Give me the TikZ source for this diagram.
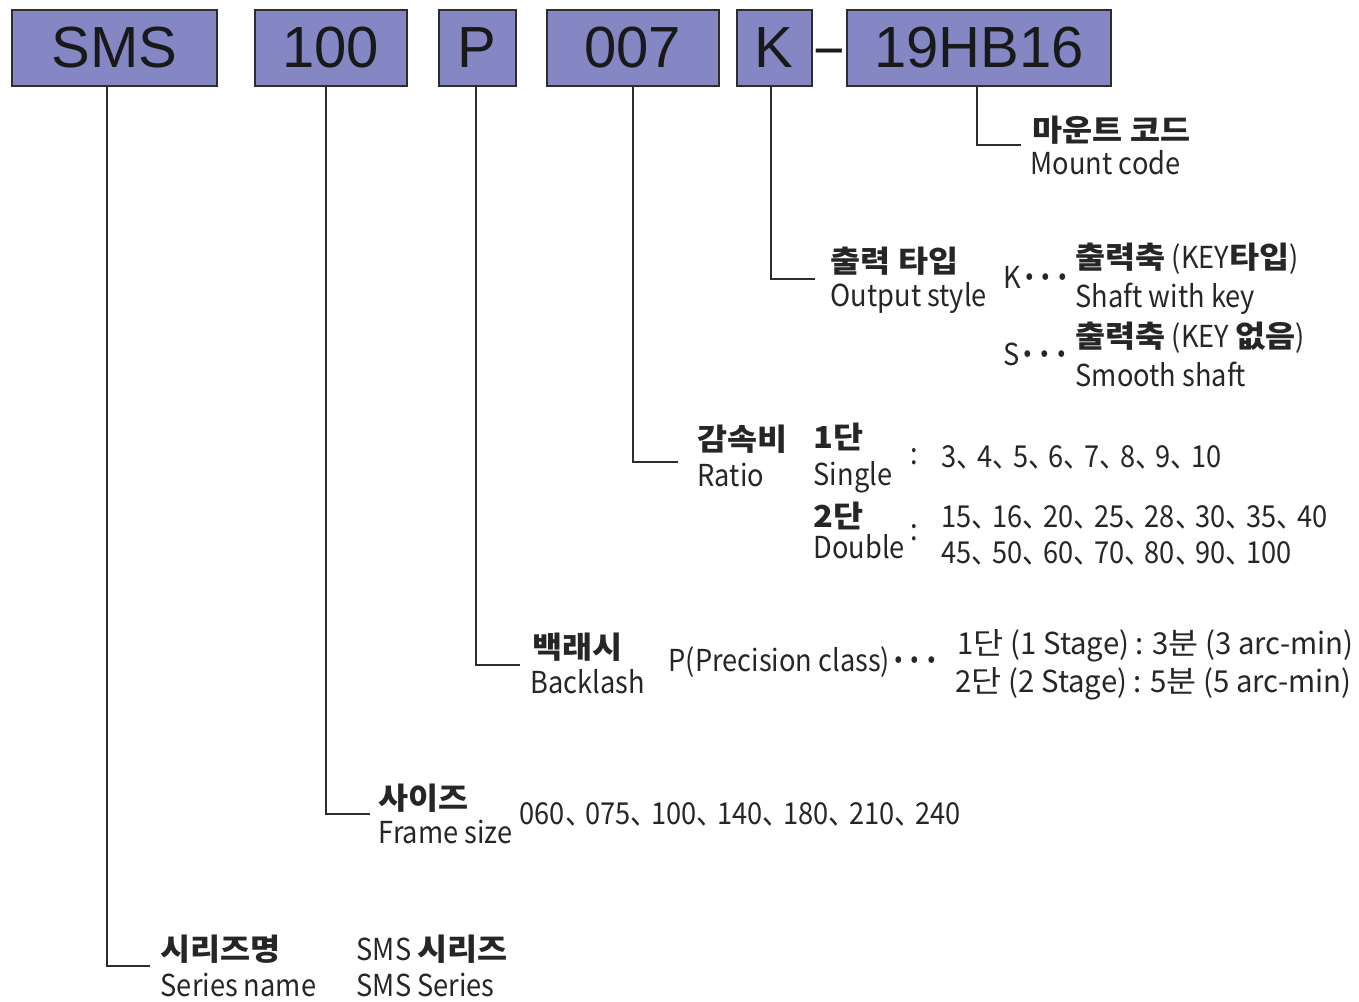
\documentclass[tikz,border=0pt]{standalone}
\usepackage{fontspec}
\setmainfont{Noto Sans CJK KR}[FakeStretch=0.9]
\newfontfamily\korfont{Noto Sans CJK KR}[FakeStretch=1.08]
\newfontfamily\stagefont{Noto Sans CJK KR}[FakeStretch=0.97]
\newfontfamily\boxfont{Liberation Sans}
\usepackage{xcolor}
\usepackage{tikz}
\usetikzlibrary{positioning,calc}
\definecolor{CodeBlue}{RGB}{133,135,196}
\definecolor{LeadGray}{RGB}{45,45,45}
\newcommand{\dn}{、\kern-0.22em}
\newcommand{\kr}[1]{{\korfont #1}}
\newcommand{\krb}[1]{{\korfont\bfseries #1}}
\newcommand{\dts}{{\bfseries ···}}

\tikzset{
    codebox/.style={draw=LeadGray, line width=0.45pt, fill=CodeBlue, minimum height=0.76cm,
        inner sep=0pt, anchor=west, font=\boxfont\fontsize{16.5}{18}\selectfont, text=black!90},
    lead/.style={draw=LeadGray, line width=0.4pt},
    lbl/.style={anchor=base west, inner sep=0pt, font=\fontsize{8.6}{10}\selectfont, text=black!85}
}

\begin{document}
\begin{tikzpicture}[x=0.01cm, y=-0.01cm]
                \useasboundingbox (0,0) rectangle (1359,1002);
                % code boxes
                \foreach \txt/\xl/\bw/\nm in {SMS/11/2.05/sms, 100/254/1.52/size, P/438/0.77/prec,
                        007/546/1.72/ratio, K/736/0.75/out, 19HB16/846/2.64/mount} {
                    \node[codebox, minimum width=\bw cm] (\nm) at (\xl, 48) {\txt};
                }
                \node[inner sep=0pt, yshift=-0.09cm, font=\boxfont\fontsize{16}{18}\selectfont, text=black!90]
                    (dash) at ($(out.east)!0.5!(mount.west)$) {\scalebox{1.9}[0.9]{-}};

                % mount code
                \coordinate (eMount) at (1021, 145);
                \draw[lead] (mount.south -| 977,0) |- (eMount);
                \node[lbl] (mountK) at (1032, 141) {\krb{마운트 코드}};
                \node[lbl] (mountE) at (1030, 174) {Mount code};

                % output style
                \coordinate (eOut) at (815, 279);
                \draw[lead] (out.south -| 771,0) |- (eOut);
                \node[lbl] (outK) at (830, 272) {\krb{출력 타입}};
                \node[lbl] (outE) at (830, 306) {Output style};
                \node[lbl] (kdots) at (1003, 288) {K\dts};
                \node[lbl] (keyK) at (1075, 268) {\krb{출력축} (KEY\krb{타입})};
                \node[lbl] (keyE) at (1075, 307) {Shaft with key};
                \node[lbl] (sdots) at (1003, 365) {S\dts};
                \node[lbl] (smK) at (1075, 347) {\krb{출력축} (KEY \krb{없음})};
                \node[lbl] (smE) at (1075, 386) {Smooth shaft};

                % ratio
                \coordinate (eRatio) at (678, 462);
                \draw[lead] (ratio.south -| 633,0) |- (eRatio);
                \node[lbl] (ratK) at (697, 450) {\krb{감속비}};
                \node[lbl] (ratE) at (697, 486) {Ratio};
                \node[lbl] (oneK) at (813, 448) {\krb{1단}};
                \node[lbl] (oneE) at (813, 485) {Single};
                \node[lbl] (colA) at (910, 464) {:};
                \node[lbl] (oneV) at (941, 467) {3\dn 4\dn 5\dn 6\dn 7\dn 8\dn 9\dn 10};
                \node[lbl] (twoK) at (813, 527) {\krb{2단}};
                \node[lbl] (twoE) at (813, 558) {Double};
                \node[lbl] (colB) at (910, 540) {:};
                \node[lbl] (twoV) at (941, 527) {15\dn 16\dn 20\dn 25\dn 28\dn 30\dn 35\dn 40};
                \node[lbl] (twoW) at (941, 563) {45\dn 50\dn 60\dn 70\dn 80\dn 90\dn 100};

                % backlash
                \coordinate (eBack) at (520, 665);
                \draw[lead] (prec.south -| 476,0) |- (eBack);
                \node[lbl] (bakK) at (532, 658) {\krb{백래시}};
                \node[lbl] (bakE) at (530, 693) {Backlash};
                \node[lbl] (precT) at (668, 671) {P(Precision class)\dts};
                \node[lbl, font=\stagefont\fontsize{8.6}{10}\selectfont] (stA) at (957, 654) {1\kr{단} (1 Stage) : 3\kr{분} (3 arc-min)};
                \node[lbl, font=\stagefont\fontsize{8.6}{10}\selectfont] (stB) at (955, 692) {2\kr{단} (2 Stage) : 5\kr{분} (5 arc-min)};

                % frame size
                \coordinate (eSize) at (370, 814);
                \draw[lead] (size.south -| 326,0) |- (eSize);
                \node[lbl] (sizK) at (378, 809) {\krb{사이즈}};
                \node[lbl] (sizE) at (378, 843) {Frame size};
                \node[lbl] (sizV) at (519, 824) {060\dn 075\dn 100\dn 140\dn 180\dn 210\dn 240};

                % series
                \coordinate (eSeries) at (150, 966);
                \draw[lead] (sms.south -| 107,0) |- (eSeries);
                \node[lbl] (serK) at (160, 960) {\krb{시리즈명}};
                \node[lbl] (serE) at (160, 996) {Series name};
                \node[lbl] (smsK) at (356, 960) {SMS \krb{시리즈}};
                \node[lbl] (smsE) at (356, 996) {SMS Series};
\end{tikzpicture}
\end{document}
